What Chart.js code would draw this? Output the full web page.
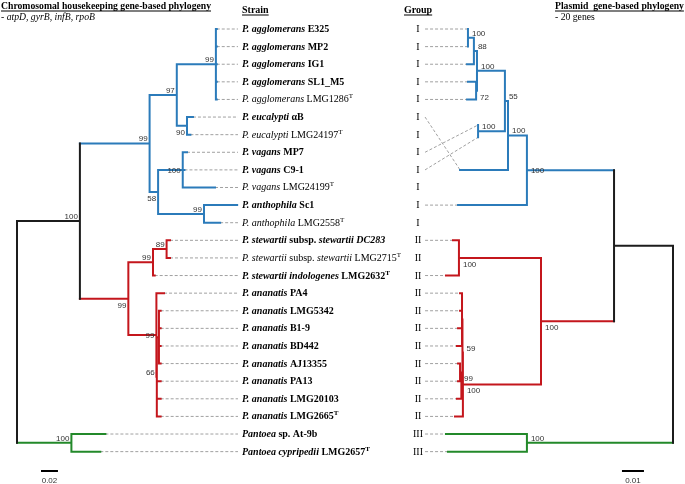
<!DOCTYPE html>
<html>
<head>
<meta charset="utf-8">
<script src="https://cdn.jsdelivr.net/npm/chart.js@4.4.1/dist/chart.umd.min.js"></script>
<style>
  html, body { margin: 0; padding: 0; background: #fff; }
  #wrap { width: 685px; height: 484px; }
</style>
</head>
<body>
<div id="wrap"><canvas id="treeChart" width="685" height="484"></canvas></div>
<script>
// one strain per row, top to bottom. *...* = italic, ^T = type strain (superscript)
const strains = [
    '*P. agglomerans* E325', '*P. agglomerans* MP2', '*P. agglomerans* IG1', '*P. agglomerans* SL1_M5',
    '*P. agglomerans* LMG1286^T', '*P. eucalypti* αB', '*P. eucalypti* LMG24197^T', '*P. vagans* MP7',
    '*P. vagans* C9-1', '*P. vagans* LMG24199^T', '*P. anthophila* Sc1', '*P. anthophila* LMG2558^T',
    '*P. stewartii* subsp. *stewartii DC283*', '*P. stewartii* subsp. *stewartii* LMG2715^T',
    '*P. stewartii indologenes* LMG2632^T', '*P. ananatis* PA4', '*P. ananatis* LMG5342',
    '*P. ananatis* B1-9', '*P. ananatis* BD442', '*P. ananatis* AJ13355', '*P. ananatis* PA13',
    '*P. ananatis* LMG20103', '*P. ananatis* LMG2665^T', '*Pantoea* sp. At-9b', '*Pantoea cypripedii* LMG2657^T'
];
const strainBold = [1, 1, 1, 1, 0, 1, 0, 1, 1, 0, 1, 0, 1, 0, 1, 1, 1, 1, 1, 1, 1, 1, 1, 1, 1];
const groups = ['I', 'I', 'I', 'I', 'I', 'I', 'I', 'I', 'I', 'I', 'I', 'I',
    'II', 'II', 'II', 'II', 'II', 'II', 'II', 'II', 'II', 'II', 'II', 'III', 'III'];

// chromosomal tree (atpD, gyrB, infB, rpoB): [node, parent, distance from root, bootstrap]
const chromoNodes = [
    ['root', null, 0, ''], ['in', 'root', 0.074, '100'],
    ['blue', 'in', 0.156, '99'], ['n97', 'blue', 0.188, '97'], ['agg', 'n97', 0.234, '99'],
    ['euc', 'n97', 0.200, '90'], ['n58', 'blue', 0.166, '58'], ['vag', 'n58', 0.195, '100'],
    ['anth', 'n58', 0.220, '99'], ['red', 'in', 0.131, '99'], ['stew', 'red', 0.160, '99'],
    ['n89', 'stew', 0.176, '89'], ['ana', 'red', 0.164, '99'], ['ana2', 'ana', 0.1645, '66'],
    ['ana3', 'ana2', 0.167, ''], ['green', 'root', 0.064, '100']
];
const chromoTipParent = ['agg', 'agg', 'agg', 'agg', 'agg', 'euc', 'euc', 'vag', 'vag', 'vag', 'anth', 'anth',
    'n89', 'n89', 'stew', 'ana', 'ana3', 'ana3', 'ana3', 'ana3', 'ana2', 'ana2', 'ana2', 'green', 'green'];
const chromoTipDepth = [0.235, 0.235, 0.235, 0.235, 0.235, 0.207, 0.204, 0.200, 0.197, 0.233, 0.259, 0.239,
    0.180, 0.180, 0.162, 0.173, 0.169, 0.169, 0.169, 0.169, 0.169, 0.169, 0.169, 0.104, 0.098];

// plasmid tree (20 genes), drawn right to left
const plasmidNodes = [
    ['R', null, 0, ''], ['S', 'R', 0.0268, ''], ['H', 'S', 0.0664, '100'], ['G', 'H', 0.0750, '100'],
    ['E', 'G', 0.0764, '55'], ['D', 'E', 0.0891, '100'], ['B', 'D', 0.0905, '88'], ['A', 'B', 0.0932, '100'],
    ['C', 'D', 0.0895, '72'], ['F', 'E', 0.0886, '100'], ['I', 'S', 0.0600, '100'], ['J', 'I', 0.0973, '100'],
    ['K', 'I', 0.0955, '100'], ['X', 'K', 0.0957, '59'], ['P', 'X', 0.0959, ''], ['Y', 'X', 0.0962, ''],
    ['Q', 'Y', 0.0968, '99'], ['L', 'R', 0.0664, '100']
];
// null = strain not in the plasmid tree
const plasmidTipParent = ['A', 'A', 'B', 'C', 'C', 'G', null, 'F', 'F', null, 'H', null,
    'J', null, 'J', 'P', 'P', 'P', 'P', 'Q', 'Q', 'Y', 'K', 'L', 'L'];
const plasmidTipDepth = [0.0932, 0.0932, 0.0936, 0.0932, 0.0936, 0.0968, null, 0.0886, 0.0886, null, 0.0977, null,
    0.1000, null, 0.1032, 0.0968, 0.0968, 0.0977, 0.0982, 0.0977, 0.0977, 0.0982, 0.0991, 0.1032, 0.1023];
// row where each leaf sits in the plasmid tree (leaves are re-ordered there)
const plasmidTipRow = [0, 1, 2, 3, 4, 8, null, 5.45, 6.15, null, 10, null,
    12, null, 14, 15, 16, 17, 18, 19, 20, 21, 22, 23, 24];

const scaleBars = [{ axis: 'xL', from: 0.0282, len: 0.02, text: '0.02' }, { axis: 'xR', from: 0.0232, len: -0.01, text: '0.01' }];

// styling
const BLACK = '#1c1c1c', BLUE = '#2b7bba', RED = '#c4161c', GREEN = '#23892a', DASH = '#a0a0a0';
const FONT_PX = 10, TITLE_PX = 9.7;
const chromoColors = { root: BLACK, blue: BLUE, red: RED, green: GREEN };
const plasmidColors = { R: BLACK, H: BLUE, I: RED, L: GREEN };
const chromoLabelPlace = { in: 'above', blue: 'above', n97: 'above', agg: 'above', euc: 'below', n58: 'below',
    vag: 'mid', anth: 'above', red: 'below', stew: 'above', n89: 'above', ana: 'mid', ana2: 'above', green: 'above' };
const plasmidLabelPlace = { A: 'above', B: 'above', D: 'above', C: 'below', E: 'above', F: 'above', G: 'above',
    H: 'mid', J: 'below', I: 'below', X: 'above', Q: 'below', K: 'below', L: 'above' };

const buildTree = (nodes, tipParent, tipDepth, tipRow, colors) => {
    const byId = {};
    nodes.forEach(([id, parent, depth, support]) => byId[id] = { id, parent, depth, support, kids: [] });
    nodes.forEach(([id, parent]) => { if (parent) byId[parent].kids.push(byId[id]); });
    const tips = [];
    tipParent.forEach((p, i) => {
        if (p === null) return;
        const t = { id: 'tip' + i, depth: tipDepth[i], row: tipRow ? tipRow[i] : i, strain: i, kids: [], tip: true };
        byId[p].kids.push(t);
        tips.push(t);
    });
    // internal node sits half way between its outermost children
    const setRow = n => {
        if (n.tip) return n.row;
        const rows = n.kids.map(setRow);
        n.lo = Math.min(...rows);
        n.hi = Math.max(...rows);
        n.row = (n.lo + n.hi) / 2;
        return n.row;
    };
    const paint = (n, c) => {
        n.color = colors[n.id] || c;
        n.kids.forEach(k => paint(k, n.color));
    };
    const root = byId[nodes.find(n => n[1] === null)[0]];
    setRow(root);
    paint(root, BLACK);
    return { byId, tips, root };
};

const chromo = buildTree(chromoNodes, chromoTipParent, chromoTipDepth, null, chromoColors);
const plasmid = buildTree(plasmidNodes, plasmidTipParent, plasmidTipDepth, plasmidTipRow, plasmidColors);

const treeDatasets = (tree, axisID) => {
    const byColor = {};
    const seg = (color, x0, y0, x1, y1) => {
        (byColor[color] = byColor[color] || []).push({ x: x0, y: y0 }, { x: x1, y: y1 }, { x: x1, y: null });
    };
    Object.values(tree.byId).forEach(n => {
        if (!n.kids.length) return;
        seg(n.color, n.depth, n.lo, n.depth, n.hi);
        n.kids.forEach(k => seg(k.color, n.depth, k.row, k.depth, k.row));
    });
    return Object.entries(byColor).map(([color, data]) => ({
        data, xAxisID: axisID, yAxisID: 'y', showLine: true, borderColor: color, borderWidth: 2,
        pointRadius: 0, spanGaps: false, borderCapStyle: 'square', order: 1
    }));
};

const leaderDataset = (points, axisID) => ({
    data: points, xAxisID: axisID, yAxisID: 'y', showLine: true, borderColor: DASH, borderWidth: 1,
    borderDash: [3, 2], pointRadius: 0, spanGaps: false, order: 2
});

// dashed leaders: chromosomal tips -> strain names, group numerals -> plasmid tips
const chromoLeaders = [];
chromo.tips.forEach(t => chromoLeaders.push({ x: t.depth, y: t.row }, { x: 0.26, y: t.row }, { x: 0.26, y: null }));
const plasmidLeaders = [];
plasmid.tips.forEach(t => plasmidLeaders.push({ x: 0.1127, y: t.strain }, { x: t.depth, y: t.row }, { x: t.depth, y: null }));

const barDatasets = scaleBars.map(b => ({
    data: [{ x: b.from, y: 25.1 }, { x: b.from + b.len, y: 25.1 }], xAxisID: b.axis, yAxisID: 'y',
    showLine: true, borderColor: '#000', borderWidth: 2, pointRadius: 0
}));

const richText = (ctx, text, x, y, bold, size) => {
    text.split('*').forEach((part, i) => {
        const italic = i % 2 === 1;
        part.split('^T').forEach((bit, j) => {
            if (j > 0) {
                ctx.font = `${bold ? 'bold ' : ''}${size - 3}px "Liberation Serif"`;
                ctx.fillText('T', x, y - 4);
                x += ctx.measureText('T').width;
            }
            ctx.font = `${italic ? 'italic ' : ''}${bold ? 'bold ' : ''}${size}px "Liberation Serif"`;
            ctx.fillText(bit, x, y);
            x += ctx.measureText(bit).width;
        });
    });
    return x;
};

const underlined = (ctx, text, x, y) => {
    ctx.fillText(text, x, y);
    const w = ctx.measureText(text).width;
    ctx.fillRect(x, y + 1.5, w, 1);
};

const textPlugin = {
    id: 'treeText',
    afterDraw(chart) {
        const ctx = chart.ctx;
        const { xL, xR, y } = chart.scales;
        ctx.save();
        ctx.fillStyle = '#000';
        ctx.textBaseline = 'alphabetic';
        ctx.textAlign = 'left';

        ctx.font = `bold ${TITLE_PX}px "Liberation Serif"`;
        underlined(ctx, 'Chromosomal housekeeping gene-based phylogeny', 1, 9);
        underlined(ctx, 'Plasmid  gene-based phylogeny', 555, 9);
        ctx.font = `bold ${FONT_PX}px "Liberation Serif"`;
        underlined(ctx, 'Strain', 242, 13);
        underlined(ctx, 'Group', 404, 13);
        richText(ctx, '- *atpD, gyrB, infB, rpoB*', 1, 20, false, TITLE_PX);
        richText(ctx, '- 20 genes', 555, 20, false, TITLE_PX);

        strains.forEach((s, i) => {
            const py = y.getPixelForValue(i) + 3;
            richText(ctx, s, 242, py, !!strainBold[i], FONT_PX);
            ctx.font = `${FONT_PX}px "Liberation Serif"`;
            ctx.textAlign = 'center';
            ctx.fillText(groups[i], 418, py);
            ctx.textAlign = 'left';
        });

        // bootstrap values
        ctx.font = '8px "Liberation Sans"';
        ctx.fillStyle = '#333';
        const off = { above: -2, below: 9, mid: 3 };
        ctx.textAlign = 'right';
        Object.values(chromo.byId).forEach(n => {
            if (!n.support) return;
            ctx.fillText(n.support, xL.getPixelForValue(n.depth) - 2, y.getPixelForValue(n.row) + off[chromoLabelPlace[n.id]]);
        });
        ctx.textAlign = 'left';
        Object.values(plasmid.byId).forEach(n => {
            if (!n.support) return;
            ctx.fillText(n.support, xR.getPixelForValue(n.depth) + 4, y.getPixelForValue(n.row) + off[plasmidLabelPlace[n.id]]);
        });

        ctx.textAlign = 'center';
        scaleBars.forEach(b => {
            const sc = chart.scales[b.axis];
            const cx = (sc.getPixelForValue(b.from) + sc.getPixelForValue(b.from + b.len)) / 2;
            ctx.fillText(b.text, cx, y.getPixelForValue(25.1) + 12);
        });
        ctx.restore();
    }
};

new Chart(document.getElementById('treeChart').getContext('2d'), {
    type: 'scatter',
    data: {
        datasets: [
            ...treeDatasets(chromo, 'xL'),
            ...treeDatasets(plasmid, 'xR'),
            leaderDataset(chromoLeaders, 'xL'),
            leaderDataset(plasmidLeaders, 'xR'),
            ...barDatasets
        ]
    },
    options: {
        responsive: false,
        animation: false,
        events: [],
        layout: { autoPadding: false, padding: 0 },
        plugins: { legend: { display: false }, tooltip: { enabled: false } },
        scales: {
            xL: { type: 'linear', display: false, min: -0.02, max: 0.7859 },
            xR: { type: 'linear', display: false, reverse: true, min: -0.005455, max: 0.305909 },
            y: { type: 'linear', display: false, reverse: true, min: -1.647, max: 25.838 }
        }
    },
    plugins: [textPlugin]
});
</script>
</body>
</html>
